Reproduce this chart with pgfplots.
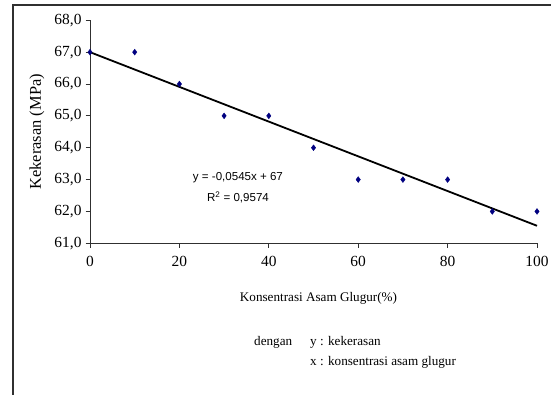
\documentclass[border=0pt]{standalone}
\usepackage{pgfplots}
\pgfplotsset{compat=1.18}
\usepackage{fontspec}
\setmainfont{Liberation Serif}
\newfontfamily\arialfont{Liberation Sans}
\definecolor{navy}{HTML}{000080}
\definecolor{axgray}{HTML}{303030}
\begin{document}
\begin{tikzpicture}[x=1bp,y=1bp]
\begin{axis}[
  at={(0,0)}, anchor=south west,
  scale only axis, width=447bp, height=223bp,
  xmin=0, xmax=100, ymin=61, ymax=68,
  axis x line*=bottom, axis y line*=left,
  axis line style={axgray, line width=0.9bp},
  tick style={axgray, line width=0.9bp},
  tick align=outside, major tick length=4.5bp,
  xtick={0,20,40,60,80,100},
  ytick={61,62,63,64,65,66,67,68},
  tick label style={font=\fontsize{15.5}{15.5}\selectfont},
  /pgf/number format/assume math mode=true,
  yticklabel={\pgfmathprintnumber[fixed,fixed zerofill,precision=1,use comma,assume math mode=true]{\tick}},
  xticklabel={\pgfmathprintnumber[fixed,precision=0,assume math mode=true]{\tick}},
  yticklabel style={xshift=-0.5bp},
  xticklabel style={yshift=-5bp},
  xlabel={Konsentrasi Asam Glugur(\%)},
  xlabel style={at={(axis description cs:0.5,0)}, anchor=center, yshift=-54.7bp, xshift=5bp, font=\fontsize{13.2}{15}\selectfont},
  clip=false,
]
\addplot[only marks, mark=diamond*, mark size=2.9bp, color=navy] coordinates {
  (0,67) (10,67) (20,66) (30,65) (40,65) (50,64) (60,63) (70,63) (80,63) (90,62) (100,62)
};
\addplot[black, line width=1.8bp, no marks] coordinates {(0,67) (100,61.55)};
\node[font=\arialfont\fontsize{11.6}{13}\selectfont] at (axis cs:33.1,63.05) {y = -0,0545x + 67};
\node[font=\arialfont\fontsize{11.6}{13}\selectfont] at (axis cs:33.1,62.45) {R\textsuperscript{2} = 0,9574};
\end{axis}
\node[rotate=90, font=\fontsize{16.5}{18}\selectfont, inner sep=0pt] at (-53,111.5) {Kekerasan (MPa)};
\node[anchor=west, font=\fontsize{13.2}{15}\selectfont, inner sep=0pt] at (164,-98.7) {dengan};
\node[anchor=west, font=\fontsize{13.2}{15}\selectfont, inner sep=0pt] at (220,-98.7) {y : kekerasan};
\node[anchor=west, font=\fontsize{13.2}{15}\selectfont, inner sep=0pt] at (220,-118.7) {x : konsentrasi asam glugur};
\draw[axgray, line width=1.6bp] (-77,-152) -- (-77,238.3) -- (462,238.3);
\pgfresetboundingbox
\useasboundingbox (-90,-150.7) rectangle (461,243.3);
\end{tikzpicture}
\end{document}
